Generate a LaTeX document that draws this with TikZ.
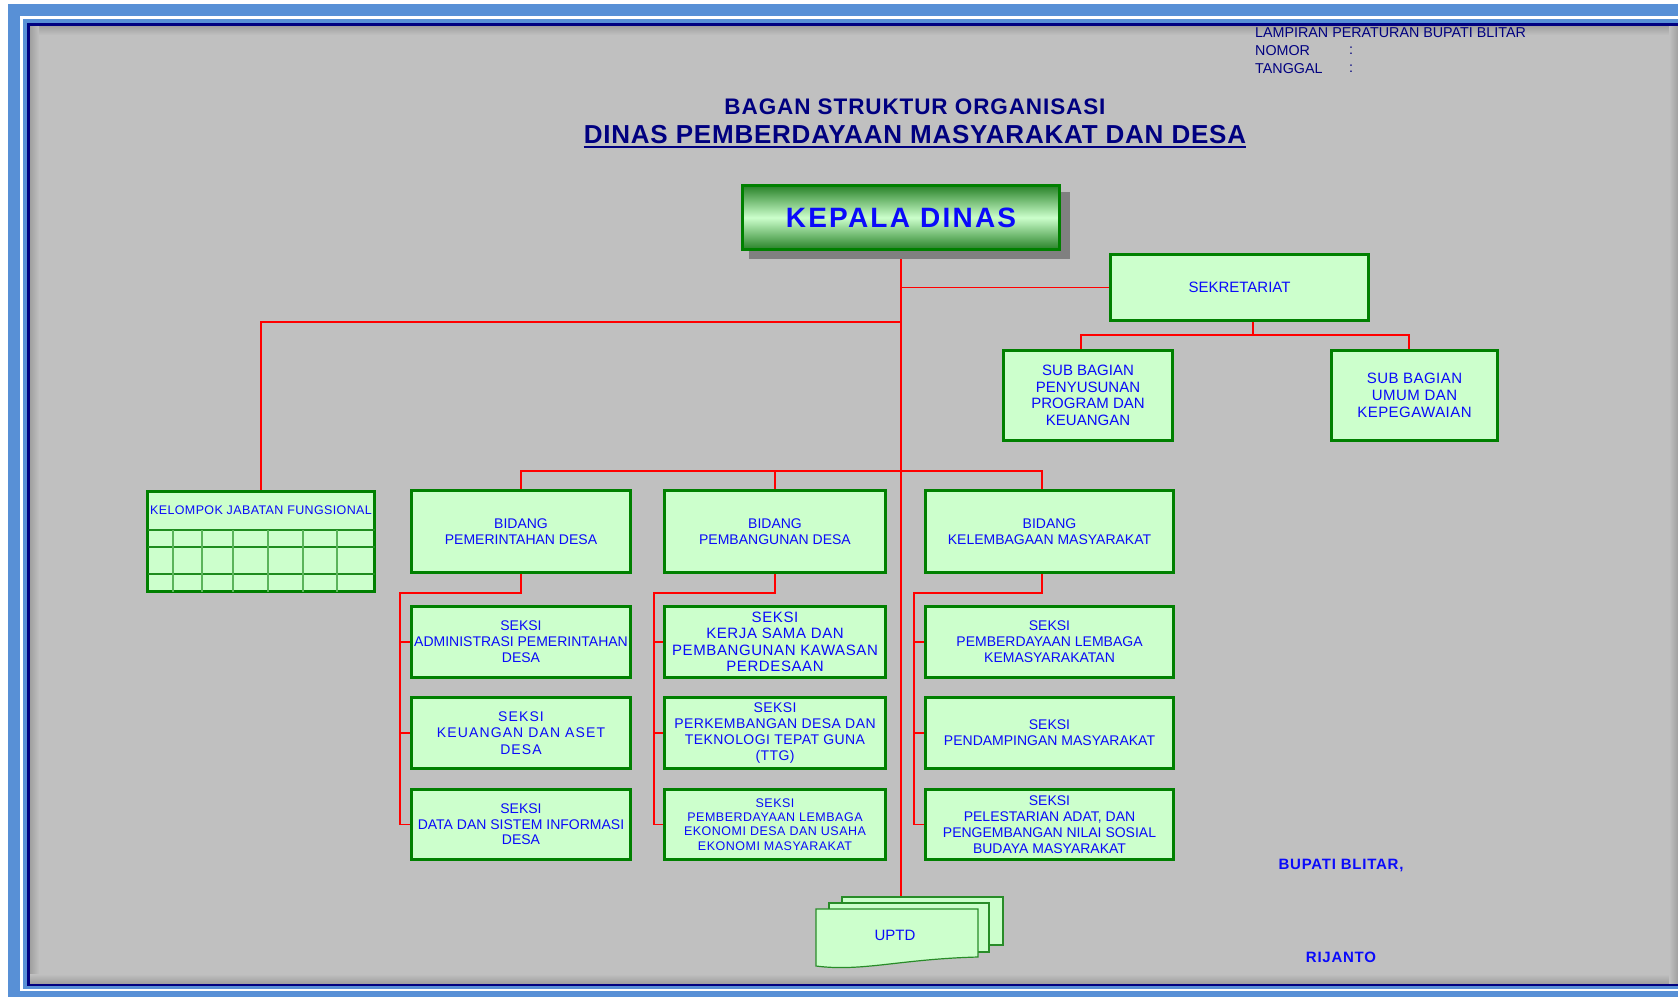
\documentclass[tikz,border=0pt]{standalone}
\usepackage{fontspec}
\setmainfont{Liberation Sans}
\usetikzlibrary{calc}
\definecolor{frameblue}{RGB}{88,144,214}
\definecolor{navyline}{RGB}{0,0,128}
\definecolor{bggray}{RGB}{192,192,192}
\definecolor{shadegray}{RGB}{160,160,160}
\definecolor{boxfill}{RGB}{204,255,204}
\definecolor{bordergreen}{RGB}{0,128,0}
\definecolor{textblue}{RGB}{10,10,250}
\definecolor{titlenavy}{RGB}{0,0,128}
\definecolor{linered}{RGB}{255,0,0}
\definecolor{shadowgray}{RGB}{128,128,128}
\definecolor{kdark}{RGB}{40,130,40}
\definecolor{gridh}{RGB}{30,140,30}
\definecolor{gridv}{RGB}{90,180,90}
\definecolor{sheetline}{RGB}{40,140,40}
\pgfdeclarelayer{bg}
\pgfdeclarelayer{lines}
\pgfsetlayers{bg,lines,main}
\newcommand\fs[2]{\fontsize{#1}{#2}\selectfont}
\begin{document}
\begin{tikzpicture}[x=1pt,y=-1pt,
  box/.style={draw=bordergreen, line width=3pt, fill=boxfill, text=textblue, align=center, inner sep=0pt, font=\fs{14}{16}},
  redl/.style={draw=linered, line width=1.5pt},
  hdr/.style={text=titlenavy, inner sep=0pt, font=\fs{14.3}{16}},
  sheet/.style={fill=boxfill, draw=sheetline, line width=1.2pt}]
\useasboundingbox (0,0) rectangle (1678,997);
\begin{pgfonlayer}{bg}
\fill[white] (0,0) rectangle (1678,997);
\fill[frameblue] (8,4) rectangle (1678,997);
\fill[white] (20,16) rectangle (1678,991);
\fill[frameblue] (23,19) rectangle (1678,989);
\fill[navyline] (27,23) rectangle (1678,986);
\fill[bggray] (30,26) rectangle (1678,983);
\shade[top color=shadegray, bottom color=bggray] (30,26) rectangle (1678,35);
\shade[left color=shadegray, right color=bggray] (30,26) rectangle (39,983);
\shade[bottom color=shadegray, top color=bggray] (30,974) rectangle (1678,983);
\shade[right color=shadegray, left color=bggray] (1669,26) rectangle (1678,983);
\end{pgfonlayer}

% header
\node[hdr, anchor=west] (lamp) at (1255,33) {LAMPIRAN PERATURAN BUPATI BLITAR};
\node[hdr, anchor=west] (nom) at (1255,51) {NOMOR};
\node[hdr, anchor=west] (nomc) at (1349,51) {:};
\node[hdr, anchor=west] (tgl) at (1255,69) {TANGGAL};
\node[hdr, anchor=west] (tglc) at (1349,69) {:};

\node[text=titlenavy, inner sep=0pt, font={\fs{22.5}{26}\bfseries\addfontfeature{LetterSpace=4}}] (t1) at (915,107) {BAGAN STRUKTUR ORGANISASI};
\node[text=titlenavy, inner sep=0pt, font={\fs{26}{30}\bfseries\addfontfeature{LetterSpace=3}}] (t2) at (915,135) {DINAS PEMBERDAYAAN MASYARAKAT DAN DESA};
\draw[titlenavy, line width=2pt] ([yshift=-3.5pt]t2.base west) -- ([yshift=-3.5pt]t2.base east);

% kepala dinas
\fill[shadowgray] (749,192) rectangle (1070,259);
\node[box, top color=kdark, bottom color=kdark, middle color=boxfill, minimum width=317pt, minimum height=64pt,
  font={\fs{28}{30}\bfseries\addfontfeature{LetterSpace=8}}] (kep) at (901,217.5) {KEPALA DINAS};

% sekretariat
\node[box, minimum width=258pt, minimum height=66pt, font=\fs{15}{17}] (sek) at (1239.5,287.5) {SEKRETARIAT};
\node[box, minimum width=169pt, minimum height=90pt, font=\fs{15}{16.6}] (sbp) at (1088,395.5) {SUB BAGIAN\\PENYUSUNAN\\PROGRAM DAN\\KEUANGAN};
\node[box, minimum width=166pt, minimum height=90pt, font={\fs{15}{17}\addfontfeature{LetterSpace=3}}] (sbu) at (1414.5,395.5) {SUB BAGIAN\\UMUM DAN\\KEPEGAWAIAN};

% kelompok jabatan fungsional
\node[box, minimum width=227pt, minimum height=100pt] (kjf) at (261,541.5) {};
\foreach \yy in {530,547,574} \draw[gridh, line width=1.5pt] (147.5,\yy) -- (374.5,\yy);
\foreach \xx in {173,202,233,268,303,337} \draw[gridv, line width=1.5pt] (\xx,530) -- (\xx,591.5);
\node[text=textblue, inner sep=0pt, font={\fs{12.5}{14}\addfontfeature{LetterSpace=3}}] (kjft) at (261,510) {KELOMPOK JABATAN FUNGSIONAL};

% bidang
\node[box, minimum width=219pt, minimum height=82pt] (bpd) at (521,531.5) {BIDANG\\PEMERINTAHAN DESA};
\node[box, minimum width=221pt, minimum height=82pt] (bpb) at (775,531.5) {BIDANG\\PEMBANGUNAN DESA};
\node[box, minimum width=248pt, minimum height=82pt] (bkm) at (1049.5,531.5) {BIDANG\\KELEMBAGAAN MASYARAKAT};

% seksi column 1
\node[box, minimum width=219pt, minimum height=71pt] (sa1) at (521,642) {SEKSI\\ADMINISTRASI PEMERINTAHAN\\DESA};
\node[box, minimum width=219pt, minimum height=71pt, font={\fs{14}{16.7}\addfontfeature{LetterSpace=8}}] (sa2) at (521,733) {SEKSI\\KEUANGAN DAN ASET\\DESA};
\node[box, minimum width=219pt, minimum height=70pt, font=\fs{14}{15.5}] (sa3) at (521,824.5) {SEKSI\\DATA DAN SISTEM INFORMASI\\DESA};

% seksi column 2
\node[box, minimum width=221pt, minimum height=71pt, font={\fs{15}{16.5}\addfontfeature{LetterSpace=4}}] (sb1) at (775,642) {SEKSI\\KERJA SAMA DAN\\PEMBANGUNAN KAWASAN\\PERDESAAN};
\node[box, minimum width=221pt, minimum height=71pt, font={\fs{14}{16}\addfontfeature{LetterSpace=3}}] (sb2) at (775,733) {SEKSI\\PERKEMBANGAN DESA DAN\\TEKNOLOGI TEPAT GUNA\\(TTG)};
\node[box, minimum width=221pt, minimum height=70pt, font={\fs{12.5}{14.3}\addfontfeature{LetterSpace=4}}] (sb3) at (775,824.5) {SEKSI\\PEMBERDAYAAN LEMBAGA\\EKONOMI DESA DAN USAHA\\EKONOMI MASYARAKAT};

% seksi column 3
\node[box, minimum width=248pt, minimum height=71pt] (sc1) at (1049.5,642) {SEKSI\\PEMBERDAYAAN LEMBAGA\\KEMASYARAKATAN};
\node[box, minimum width=248pt, minimum height=71pt] (sc2) at (1049.5,733) {SEKSI\\PENDAMPINGAN MASYARAKAT};
\node[box, minimum width=248pt, minimum height=70pt] (sc3) at (1049.5,824.5) {SEKSI\\PELESTARIAN ADAT, DAN\\PENGEMBANGAN NILAI SOSIAL\\BUDAYA MASYARAKAT};

% UPTD
\filldraw[sheet] (842,897) rectangle (1003,945);
\filldraw[sheet] (829,903) rectangle (989,952);
\filldraw[sheet] (816,909) -- (978,909) -- (978,957) .. controls (900,959) and (862,972) .. (816,966) -- cycle;
\node[text=textblue, inner sep=0pt, font=\fs{15}{17}] (uptd) at (895,935) {UPTD};
\coordinate (uptop) at (901,897);

% signature
\node[text=textblue, inner sep=0pt, font={\fs{15}{17}\bfseries\addfontfeature{LetterSpace=5}}] (bup) at (1341,865) {BUPATI BLITAR,};
\node[text=textblue, inner sep=0pt, font={\fs{15}{17}\bfseries\addfontfeature{LetterSpace=5}}] (rij) at (1341,957) {RIJANTO};

% connectors
\coordinate (jl) at (901,322);
\coordinate (bus) at (901,471);
\coordinate (bkmtop) at (1042,489);
\coordinate (bkmbot) at (1042,574);
\coordinate (sekd) at (1253,322);
\coordinate (sbus) at (1253,335);
\coordinate (sbpd) at (1081,349);
\coordinate (sbud) at (1409,349);
\coordinate (b1) at (400,593);
\coordinate (b2) at (654,593);
\coordinate (b3) at (914,593);
\begin{pgfonlayer}{lines}
\draw[redl, line width=2pt] (kep.south) -- (uptop);
\draw[redl, line width=1.3pt] (sek.west) -- (sek.west -| kep.south);
\draw[redl, line width=1.3pt] (jl) -| (kjf.north);
\draw[redl, line width=1.3pt] (sekd) -- (sbus);
\draw[redl, line width=1.3pt] (sbpd) |- (sbus) -| (sbud);
\draw[redl] (bpd.north) |- (bus -| bkmtop) -- (bkmtop);
\draw[redl] (bpb.north) -- (bpb.north |- bus);
\draw[redl, line width=1.7pt] (bpd.south) |- (b1) |- (sa3.west);
\draw[redl, line width=1.7pt] (b1 |- sa1.west) -- (sa1.west);
\draw[redl, line width=1.7pt] (b1 |- sa2.west) -- (sa2.west);
\draw[redl, line width=1.7pt] (bpb.south) |- (b2) |- (sb3.west);
\draw[redl, line width=1.7pt] (b2 |- sb1.west) -- (sb1.west);
\draw[redl, line width=1.7pt] (b2 |- sb2.west) -- (sb2.west);
\draw[redl, line width=1.7pt] (bkmbot) |- (b3) |- (sc3.west);
\draw[redl, line width=1.7pt] (b3 |- sc1.west) -- (sc1.west);
\draw[redl, line width=1.7pt] (b3 |- sc2.west) -- (sc2.west);
\end{pgfonlayer}
\end{tikzpicture}
\end{document}
